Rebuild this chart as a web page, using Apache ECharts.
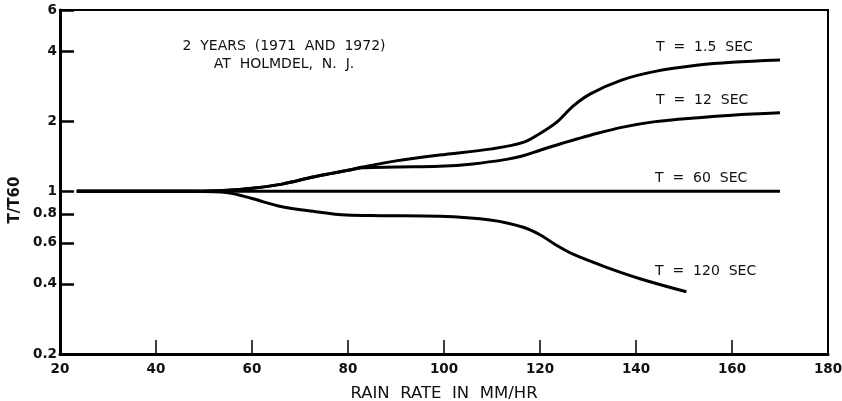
<!DOCTYPE html>
<html>
<head>
<meta charset="utf-8">
<script src="https://cdn.jsdelivr.net/npm/echarts@6/dist/echarts.min.js"></script>
<style>html,body{margin:0;padding:0;background:#fff}#c{width:842px;height:401px}</style>
</head>
<body>
<div id="c"></div>
<script>
// ---- data ----
const xTicks = [20, 40, 60, 80, 100, 120, 140, 160, 180];
const yTicks = [0.2, 0.4, 0.6, 0.8, 1, 2, 4, 6];

const t15X = [23.5, 48, 55, 60, 66, 72.7, 76.3, 80, 83, 90, 99, 110, 116.5, 120, 123.5, 127, 130.5, 137, 144, 153, 160, 170];
const t15Y = [1, 1, 1.01, 1.03, 1.07, 1.15, 1.19, 1.23, 1.27, 1.35, 1.43, 1.52, 1.62, 1.77, 1.98, 2.33, 2.62, 3.0, 3.27, 3.48, 3.58, 3.66];

const t12X = [23.5, 48, 55, 60, 66, 72.7, 76.3, 80, 83, 90, 99, 106, 113, 116.5, 120, 123.5, 127, 130.5, 137, 144, 153, 160, 170];
const t12Y = [1, 1, 1.01, 1.03, 1.07, 1.15, 1.19, 1.23, 1.26, 1.27, 1.28, 1.31, 1.37, 1.42, 1.5, 1.58, 1.66, 1.74, 1.88, 1.99, 2.07, 2.12, 2.17];

const t60X = [23.5, 170];
const t60Y = [1, 1];

const t120X = [23.5, 48, 55, 60, 66, 72.7, 79.7, 87, 99, 110, 116.5, 120, 123.5, 127, 134, 141, 150.5];
const t120Y = [1, 1, 0.985, 0.93, 0.86, 0.82, 0.79, 0.785, 0.78, 0.75, 0.70, 0.65, 0.585, 0.535, 0.47, 0.42, 0.37];

const seriesNames = ['T  =  1.5  SEC', 'T  =  12  SEC', 'T  =  60  SEC', 'T  =  120  SEC'];
const noteLines = ['2  YEARS  (1971  AND  1972)', 'AT  HOLMDEL,  N.  J.'];
const xName = 'RAIN  RATE  IN  MM/HR';
const yName = 'T/T60';

// ---- chart ----
const FONT = '"DejaVu Sans", "Liberation Sans", Arial, sans-serif';
const zip = (xs, ys) => xs.map((x, i) => [x, ys[i]]);
const mkLine = (name, xs, ys) => ({
  name, type: 'line', data: zip(xs, ys), smooth: 0.35, showSymbol: false,
  lineStyle: { color: '#000', width: 3 }, itemStyle: { color: '#000' },
  silent: true, animation: false
});
const txt = (text, x, y, align, size) => ({
  type: 'text', x, y, silent: true,
  style: { text, font: (size || 14) + 'px ' + FONT, fill: '#111', textAlign: align || 'left', textVerticalAlign: 'middle' }
});

const chart = echarts.init(document.getElementById('c'), null, { renderer: 'canvas' });
chart.setOption({
  animation: false,
  backgroundColor: '#fff',
  grid: { left: 60, right: 14, top: 10, bottom: 47, containLabel: false, outerBoundsMode: 'none', show: true, borderColor: '#000', borderWidth: 2, backgroundColor: 'transparent' },
  xAxis: {
    type: 'value', min: 20, max: 180, interval: 20,
    name: xName, nameLocation: 'middle', nameGap: 31,
    nameTextStyle: { fontFamily: FONT, fontSize: 16.5, color: '#111' },
    axisLine: { lineStyle: { color: '#000', width: 3 } },
    axisTick: { inside: true, length: 14, lineStyle: { color: '#000', width: 1.5 }, customValues: xTicks },
    axisLabel: { customValues: xTicks, margin: 8, fontFamily: FONT, fontSize: 13.5, fontWeight: 'bold', color: '#111' },
    splitLine: { show: false }
  },
  yAxis: {
    type: 'log', logBase: 10, min: 0.2, max: 6,
    name: yName, nameLocation: 'middle', nameGap: 37, nameRotate: 90,
    nameTextStyle: { fontFamily: FONT, fontSize: 15, fontWeight: 'bold', color: '#111', padding: [0, 36, 0, 0] },
    axisLine: { lineStyle: { color: '#000', width: 3 } },
    axisTick: { inside: true, length: 14, lineStyle: { color: '#000', width: 2.5 }, customValues: yTicks },
    axisLabel: { customValues: yTicks, margin: 3, fontFamily: FONT, fontSize: 13.5, fontWeight: 'bold', color: '#111' },
    minorTick: { show: false },
    splitLine: { show: false }
  },
  series: [
    mkLine(seriesNames[0], t15X, t15Y),
    mkLine(seriesNames[1], t12X, t12Y),
    mkLine(seriesNames[2], t60X, t60Y),
    mkLine(seriesNames[3], t120X, t120Y)
  ],
  graphic: [
    txt(noteLines[0], 284, 46, 'center'),
    txt(noteLines[1], 284, 64, 'center'),
    txt(seriesNames[0], 656, 47),
    txt(seriesNames[1], 656, 100),
    txt(seriesNames[2], 655, 178),
    txt(seriesNames[3], 655, 271)
  ]
});
</script>
</body>
</html>
